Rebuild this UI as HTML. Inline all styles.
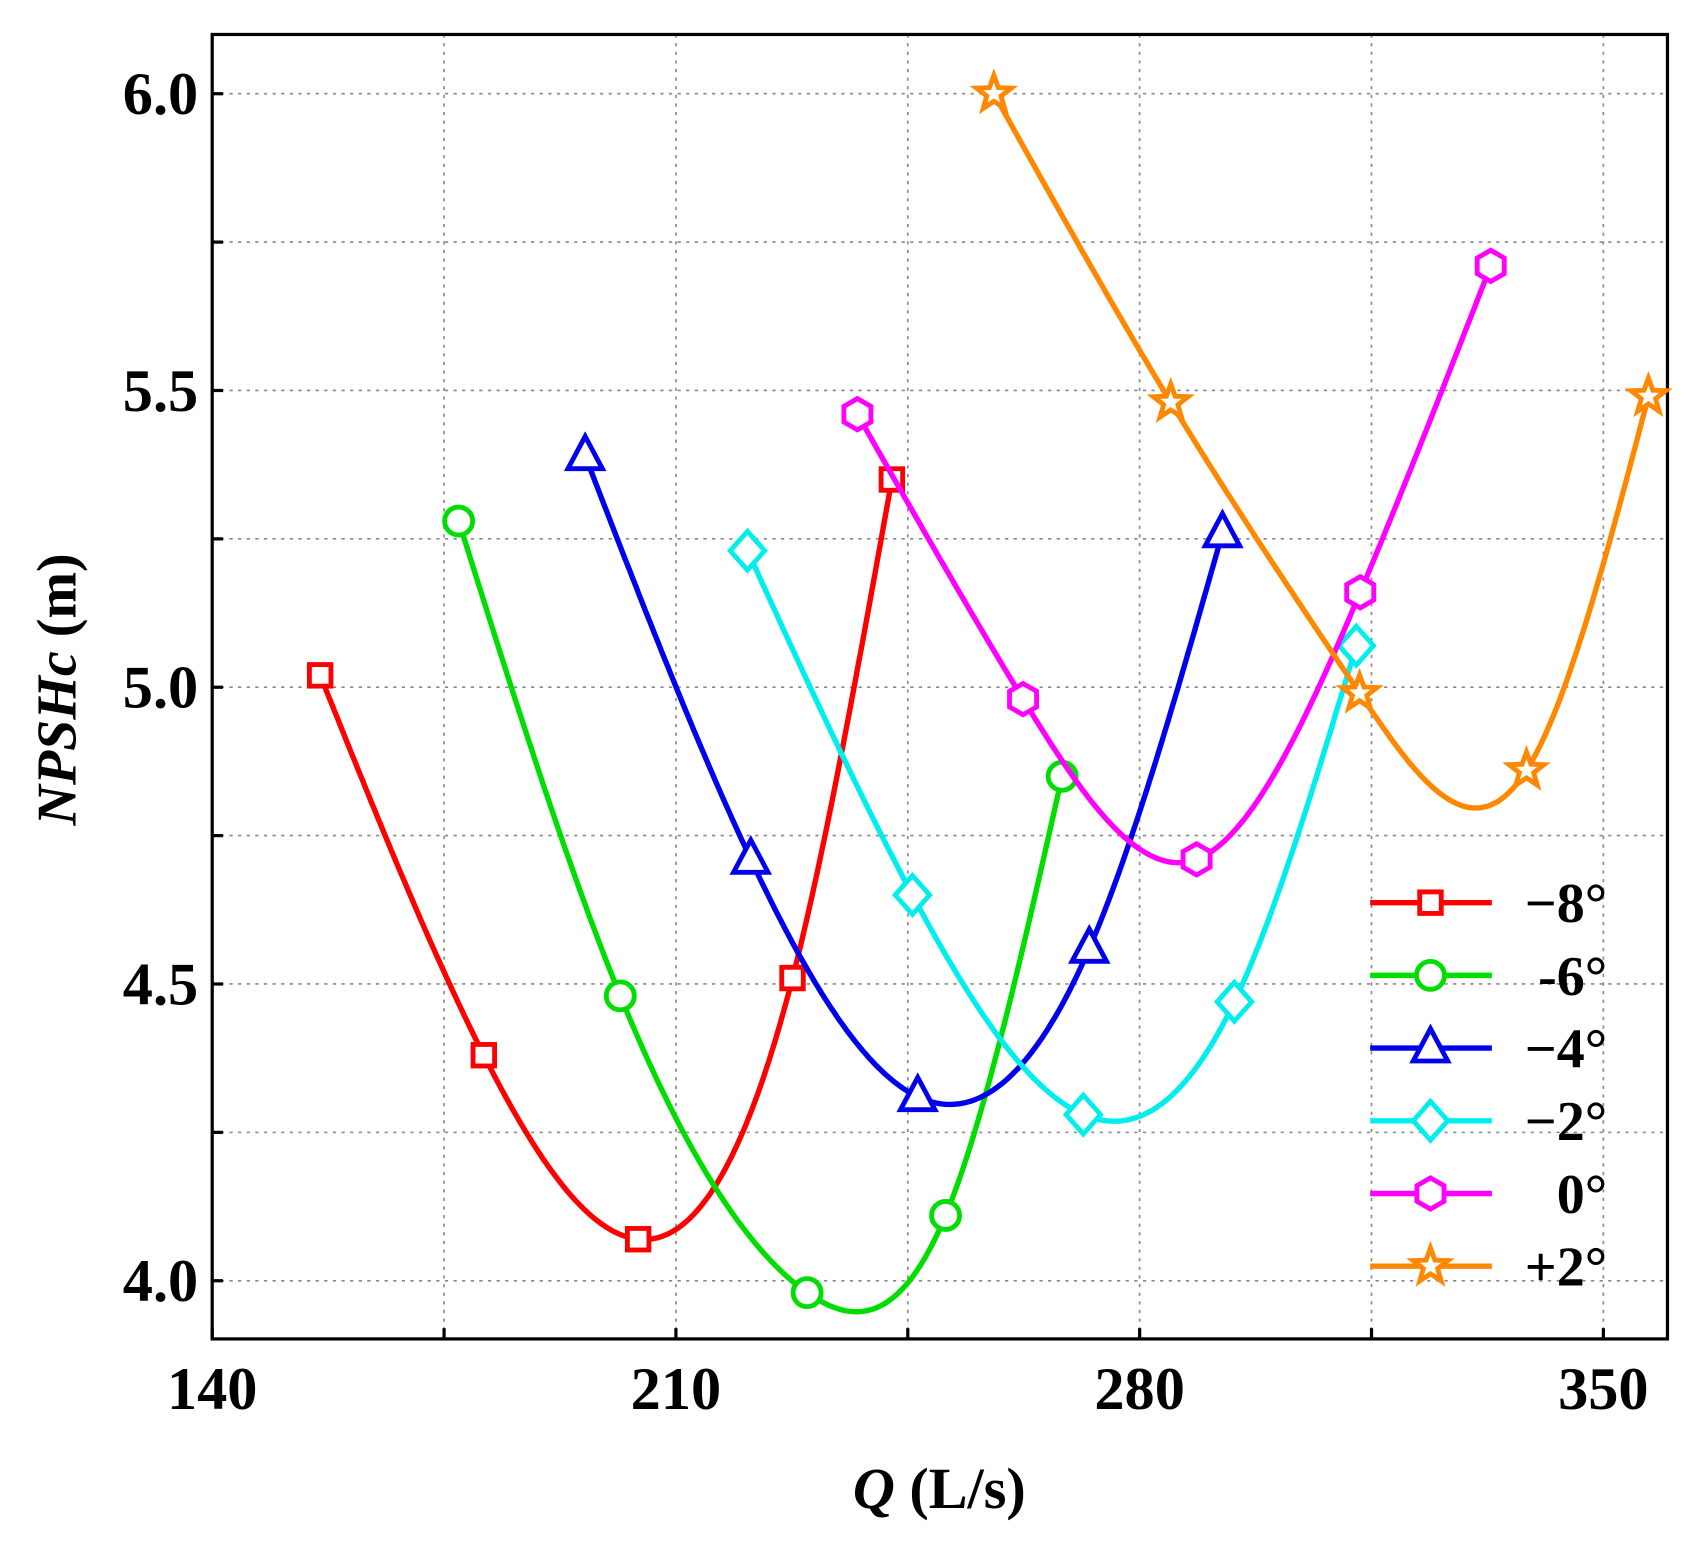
<!DOCTYPE html>
<html><head><meta charset="utf-8"><style>
html,body{margin:0;padding:0;background:#fff;}
svg{display:block;font-family:"Liberation Serif",serif;font-weight:bold;}
</style></head><body>
<svg id="c" width="1689" height="1541" viewBox="0 0 1568 1430.6" preserveAspectRatio="none" xmlns="http://www.w3.org/2000/svg"></svg>
<script>
const xTicks=[140,210,280,350];
const yTicks=[4.0,4.5,5.0,5.5,6.0];
const seriesNames=["−8°","-6°","−4°","−2°","0°","+2°"];
const q_m8=[156.3,181,204.3,227.6,242.6];
const h_m8=[5.02,4.38,4.07,4.51,5.35];
const q_m6=[177.2,201.6,229.8,250.7,268.3];
const h_m6=[5.28,4.48,3.98,4.11,4.85];
const q_m4=[196.3,221.3,246.5,272.4,292.5];
const h_m4=[5.39,4.71,4.31,4.56,5.26];
const q_m2=[220.8,245.7,271.5,294.3,312.7];
const h_m2=[5.23,4.65,4.28,4.47,5.07];
const q_0=[237.4,262.4,288.6,313.3,333];
const h_0=[5.46,4.98,4.71,5.16,5.71];
const q_p2=[258,284.7,313.2,338.4,356.8];
const h_p2=[6.0,5.48,4.99,4.86,5.49];

const NS="http://www.w3.org/2000/svg";
const svg=document.getElementById('c');
const L=197,R=1548,T=32,B=1243;
const X=v=>197+(v-140)*430.5/70;
const Y=v=>1189-(v-4)*551/1;
function mk(tag,attrs,parent){const e=document.createElementNS(NS,tag);for(const k in attrs)e.setAttribute(k,attrs[k]);(parent||svg).appendChild(e);return e;}

for(let v=140;v<=350;v+=35){const g=mk('line',{x1:X(v),x2:X(v),y1:T,y2:B,stroke:'#888','stroke-width':1.5,'stroke-dasharray':'3,5'});
}
for(let v=4.0;v<=6.01;v+=0.25){const g=mk('line',{x1:L,x2:R,y1:Y(v),y2:Y(v),stroke:'#888','stroke-width':1.5,'stroke-dasharray':'3,5'});
}
const fr=mk('rect',{x:L,y:T,width:R-L,height:B-T,fill:'none',stroke:'#000','stroke-width':3});

for(let v=140;v<=350;v+=35){const t=mk('line',{x1:X(v),x2:X(v),y1:B,y2:B-10,stroke:'#000','stroke-width':3});}
for(let v=4.0;v<=6.01;v+=0.25){const t=mk('line',{x1:L,x2:L+10,y1:Y(v),y2:Y(v),stroke:'#000','stroke-width':3});}
xTicks.forEach(v=>{const t=mk('text',{x:X(v),y:1308,'font-size':56,'text-anchor':'middle'});t.textContent=v;
});
yTicks.forEach(v=>{const t=mk('text',{x:184,y:Y(v)+19,'font-size':56,'text-anchor':'end'});t.textContent=v.toFixed(1);
});
const xt=mk('text',{x:872,y:1400,'font-size':54,'text-anchor':'middle'});
xt.innerHTML='<tspan font-style="italic">Q</tspan> (L/s)';

const yt=mk('text',{x:0,y:0,'font-size':52,'text-anchor':'middle',transform:'translate(70,640) rotate(-90)'});
yt.innerHTML='<tspan font-style="italic">NPSHc</tspan> (m)';


function spline(xs,ys){const n=xs.length,h=[],a=[],l=[1],mu=[0],z=[0],c=new Array(n).fill(0),b=[],d=[];
for(let i=0;i<n-1;i++)h.push(xs[i+1]-xs[i]);
for(let i=1;i<n-1;i++)a[i]=3/h[i]*(ys[i+1]-ys[i])-3/h[i-1]*(ys[i]-ys[i-1]);
for(let i=1;i<n-1;i++){l[i]=2*(xs[i+1]-xs[i-1])-h[i-1]*mu[i-1];mu[i]=h[i]/l[i];z[i]=(a[i]-h[i-1]*z[i-1])/l[i];}
for(let j=n-2;j>=0;j--){c[j]=(j>0?z[j]:0)-mu[j]*c[j+1];if(j===0)c[0]=0;b[j]=(ys[j+1]-ys[j])/h[j]-h[j]*(c[j+1]+2*c[j])/3;d[j]=(c[j+1]-c[j])/(3*h[j]);}
return x=>{let i=0;while(i<n-2&&x>xs[i+1])i++;const dx=x-xs[i];return ys[i]+b[i]*dx+c[i]*dx*dx+d[i]*dx*dx*dx;};}

function marker(type,cx,cy,col,name){let e;
const a={fill:'#fff',stroke:col,'stroke-width':4.5};
if(type==='sq')e=mk('rect',Object.assign({x:cx-10,y:cy-10,width:20,height:20},a));
else if(type==='ci')e=mk('circle',Object.assign({cx,cy,r:13},a));
else{let pts=[];
if(type==='tr')pts=[[0,-18],[16,12],[-16,12]];
else if(type==='di')pts=[[0,-18],[16,0],[0,18],[-16,0]];
else if(type==='hx'){for(let k=0;k<6;k++){const an=Math.PI/6+k*Math.PI/3;pts.push([14.5*Math.cos(an),14.5*Math.sin(an)]);}}
else if(type==='st'){for(let k=0;k<10;k++){const an=-Math.PI/2+k*Math.PI/5,r=k%2?7:17;pts.push([r*Math.cos(an),r*Math.sin(an)]);}}
e=mk('polygon',Object.assign({points:pts.map(p=>(cx+p[0])+','+(cy+p[1])).join(' ')},a));}
}

const series=[[q_m8,h_m8,'#f00','sq'],[q_m6,h_m6,'#0d0','ci'],[q_m4,h_m4,'#00e','tr'],[q_m2,h_m2,'#0ee','di'],[q_0,h_0,'#f0f','hx'],[q_p2,h_p2,'#f80','st']];
series.forEach((s,si)=>{const f=spline(s[0],s[1]);let d='';const x0=s[0][0],x1=s[0][s[0].length-1];
for(let k=0;k<=200;k++){const x=x0+(x1-x0)*k/200;d+=(k?'L':'M')+X(x).toFixed(1)+','+Y(f(x)).toFixed(1);}
const p=mk('path',{d,fill:'none',stroke:s[2],'stroke-width':5});

s[0].forEach((q,i)=>marker(s[3],X(q),Y(s[1][i]),s[2],'point-series-'+si));
const ly=838+si*67.5;
const ll=mk('line',{x1:1272,x2:1385,y1:ly,y2:ly,stroke:s[2],'stroke-width':5});

marker(s[3],1328,ly,s[2],'legend-marker');
const lt=mk('text',{x:1492,y:ly+18,'font-size':52,'text-anchor':'end'});lt.textContent=seriesNames[si];
});
</script>
</body></html>
